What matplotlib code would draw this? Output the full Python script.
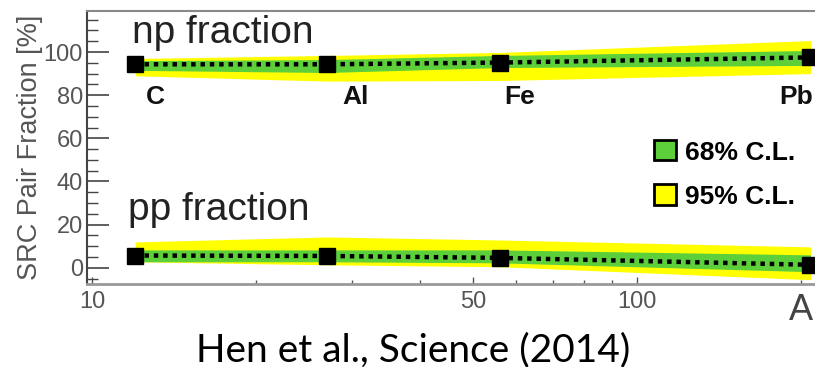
import matplotlib
matplotlib.use("Agg")
import matplotlib.pyplot as plt
from matplotlib.patches import Patch
from matplotlib.ticker import FixedLocator, NullFormatter, FixedFormatter

# ---- data ----
nuclei = ["C", "Al", "Fe", "Pb"]
mass_A = [12, 27, 56, 208]

np_frac = [94.3, 94.3, 95.1, 97.5]
np_g_lo = [91.5, 90.5, 92.8, 93.8]
np_g_hi = [96.0, 96.5, 98.4, 100.7]
np_y_lo = [89.0, 86.5, 86.8, 90.0]
np_y_hi = [97.0, 98.4, 99.8, 105.3]

pp_frac = [5.7, 5.5, 4.6, 1.4]
pp_g_lo = [2.8, 2.8, 2.3, -1.8]
pp_g_hi = [8.3, 8.3, 8.3, 6.0]
pp_y_lo = [2.8, 1.4, 0.5, -5.5]
pp_y_hi = [12.0, 14.3, 12.9, 9.7]

yticks = [0, 20, 40, 60, 80, 100]
xticks = [10, 50, 100]
xtick_labels = ["10", "50", "100"]

GREEN = "#5ccf3a"
YELLOW = "#ffff00"

plt.rcParams['font.family'] = ['Liberation Sans', 'DejaVu Sans']

fig = plt.figure(figsize=(8.15, 3.67), dpi=100)
ax = fig.add_axes([87/815, 1-284/367, (815-87)/815, (284-11)/367])

for frac, glo, ghi, ylo, yhi in [(np_frac, np_g_lo, np_g_hi, np_y_lo, np_y_hi),
                                 (pp_frac, pp_g_lo, pp_g_hi, pp_y_lo, pp_y_hi)]:
    ax.fill_between(mass_A, ylo, yhi, color=YELLOW, lw=0, zorder=1)
    ax.fill_between(mass_A, glo, ghi, color=GREEN, lw=0, zorder=2)
    ax.plot(mass_A, frac, color="black", lw=3.2, linestyle=(0, (1, 1.1)), zorder=3)
    ax.plot(mass_A, frac, ls="none", marker="s", ms=12, color="black", zorder=4)

ax.set_xscale("log")
ax.set_xlim(9.79, 212)
ax.set_ylim(-7.5, 119)

ax.xaxis.set_major_locator(FixedLocator(xticks))
ax.xaxis.set_major_formatter(FixedFormatter(xtick_labels))
ax.xaxis.set_minor_locator(FixedLocator([20, 30, 40, 60, 70, 80, 90, 200]))
ax.xaxis.set_minor_formatter(NullFormatter())
ax.yaxis.set_major_locator(FixedLocator(yticks))
ax.yaxis.set_minor_locator(FixedLocator(list(range(-5, 120, 5))))

ax.tick_params(axis="y", which="major", direction="in", length=16, width=1.2,
               color="#444444", labelsize=17, labelcolor="#555555", pad=3, right=False)
ax.tick_params(axis="y", which="minor", direction="in", length=8, width=1.0,
               color="#444444", right=False)
ax.tick_params(axis="x", which="major", direction="in", length=5, width=1.0,
               color="#555555", labelsize=17, labelcolor="#555555", pad=5, top=False)
ax.tick_params(axis="x", which="minor", direction="in", length=3, width=1.0,
               color="#555555", top=False)

ax.spines["right"].set_visible(False)
ax.spines["top"].set_color("#888888")
ax.spines["top"].set_linewidth(1.5)
ax.spines["bottom"].set_color("#999999")
ax.spines["bottom"].set_linewidth(2)
ax.spines["left"].set_color("#444444")
ax.spines["left"].set_linewidth(1.5)

ax.set_ylabel("SRC Pair Fraction [%]", fontsize=19.5, color="#555555", labelpad=0)

ax.text(11.84, 109, "np fraction", fontsize=28, color="#222222", va="center", ha="left")
ax.text(11.64, 27, "pp fraction", fontsize=28, color="#222222", va="center", ha="left")

label_x = [13.05, 30.4, 61.0, 196.0]
for name, lx in zip(nuclei, label_x):
    ax.text(lx, 79, name, fontsize=19, fontweight="bold", color="#111111",
            ha="center", va="center")

handles = [Patch(facecolor=GREEN, edgecolor="black", lw=2, label="68% C.L."),
           Patch(facecolor=YELLOW, edgecolor="black", lw=2, label="95% C.L.")]
ax.legend(handles=handles, loc="upper left", bbox_to_anchor=(0.765, 0.565),
          frameon=False, prop={"weight": "bold", "size": 19},
          handlelength=0.8, handleheight=0.8, handletextpad=0.35, labelspacing=0.75,
          borderaxespad=0)

fig.text(813/815, 1-311/367, "A", fontsize=26, color="#444444", ha="right", va="center")
fig.text(413/815, 1-350/367, "Hen et al., Science (2014)", fontsize=28,
         family=["Lato", "DejaVu Sans"], color="black", ha="center", va="center")

fig.savefig("out.png", dpi=100)
